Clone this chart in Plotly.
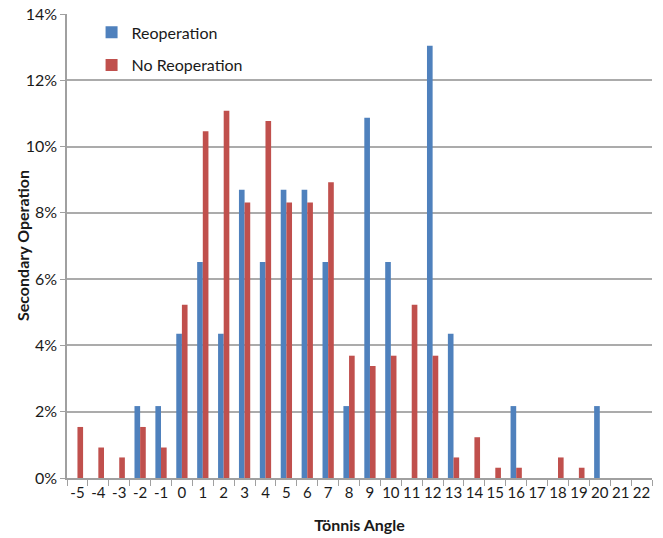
import plotly.graph_objects as go

angles = [str(a) for a in range(-5, 23)]
reoperation = [0, 0, 0, 2.17, 2.17, 4.35, 6.52, 4.35, 8.70, 6.52, 8.70, 8.70, 6.52, 2.17,
               10.87, 6.52, 0, 13.04, 4.35, 0, 0, 2.17, 0, 0, 0, 2.17, 0, 0]
no_reoperation = [1.54, 0.92, 0.62, 1.54, 0.92, 5.23, 10.46, 11.08, 8.31, 10.77, 8.31, 8.31,
                  8.92, 3.69, 3.38, 3.69, 5.23, 3.69, 0.62, 1.23, 0.31, 0.31, 0, 0.62, 0.31, 0, 0, 0]
y_ticks = [0, 2, 4, 6, 8, 10, 12, 14]

FONT = "Lato"

fig = go.Figure()
fig.add_trace(go.Bar(x=angles, y=[v / 100 for v in reoperation], name="Reoperation",
                     marker=dict(color="#4F81BD", line=dict(width=0)), legendgroup="a"))
fig.add_trace(go.Bar(x=angles, y=[v / 100 for v in no_reoperation], name="No Reoperation",
                     marker=dict(color="#C0504D", line=dict(width=0)), legendgroup="b"))

fig.update_layout(
    width=663, height=538,
    margin=dict(l=67, r=11, t=14, b=60, autoexpand=False),
    paper_bgcolor="white", plot_bgcolor="white",
    barmode="group", bargap=0.46, bargroupgap=0,
    font=dict(family=FONT, size=15, color="#1a1a1a"),
    legend=dict(x=0.042, y=0.997, xanchor="left", yanchor="top",
                bgcolor="rgba(0,0,0,0)", tracegroupgap=9,
                font=dict(family=FONT, size=16, color="#1a1a1a"), itemwidth=30),
    showlegend=True,
    annotations=[dict(text="<b>Secondary Operation</b>", xref="paper", yref="paper",
                      x=-45 / 585, y=0.5, xanchor="center", yanchor="middle",
                      textangle=-90, showarrow=False,
                      font=dict(family=FONT, size=16, color="#1a1a1a"))],
)
fig.update_xaxes(
    type="category", tickson="boundaries", ticks="outside", ticklen=6, tickcolor="#a0a0a0",
    showline=True, linecolor="#a0a0a0", linewidth=1.5, showgrid=False, tickangle=0,
    automargin=False,
    title=dict(text="<b>Tönnis Angle</b>", font=dict(family=FONT, size=16), standoff=20),
    tickfont=dict(size=15),
)
fig.update_yaxes(
    range=[0, 0.14], tickvals=[t / 100 for t in y_ticks], tickformat=".0%",
    showgrid=True, gridcolor="#ababab", gridwidth=1.5, automargin=False,
    showline=True, linecolor="#a0a0a0", linewidth=1.5, ticks="outside", ticklen=5,
    tickcolor="#a0a0a0", zeroline=False,
    tickfont=dict(size=16),
)

fig.write_html("out.html", config={"displayModeBar": False},
               post_script="document.body.style.margin='0';")
